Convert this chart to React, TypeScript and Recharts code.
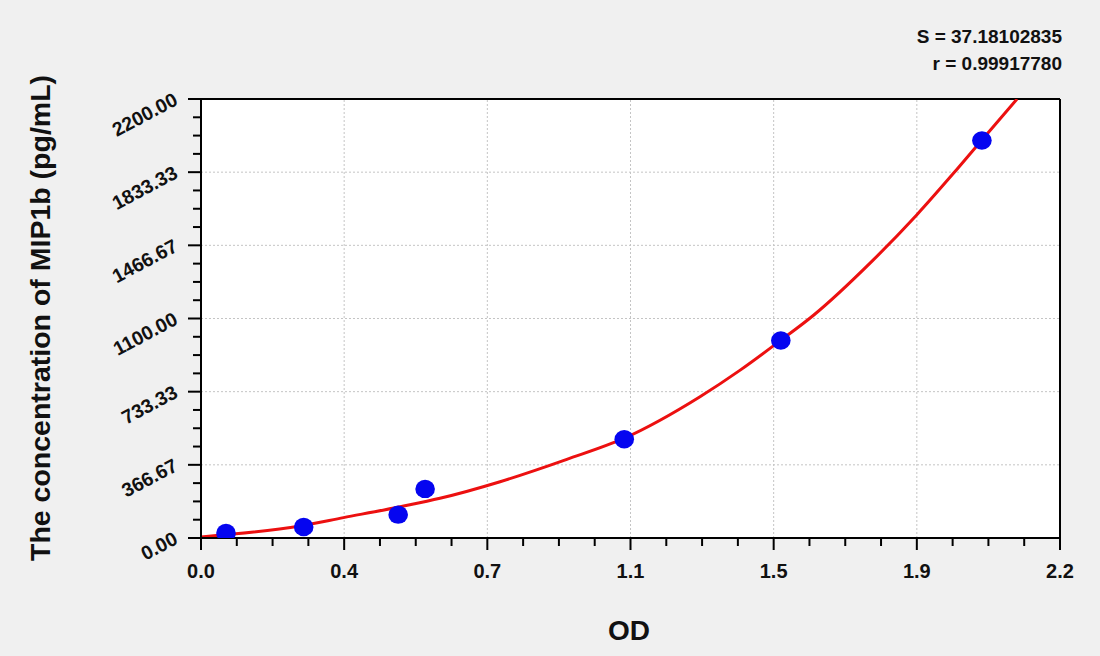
import React from "react";
import {
  ComposedChart, Line, Scatter, XAxis, YAxis, CartesianGrid, ReferenceLine,
} from "recharts";

// standards (OD vs concentration)
const stdOd = [0.064, 0.263, 0.505, 0.574, 1.084, 1.485, 2.0];
const stdConc = [25, 55, 117, 246, 495, 990, 1992];

// fitted curve
const fitOd = [0, 0.254, 0.365, 0.51, 0.612, 0.766, 0.937, 1.084, 1.278, 1.38, 1.483, 1.568, 1.72, 1.833, 1.926, 2.0, 2.09];
const fitConc = [5, 60, 102, 157, 199, 282, 394, 500, 708, 840, 988, 1115, 1390, 1619, 1825, 1995, 2200];

// axes
const xMajor = [0, 0.36667, 0.73333, 1.1, 1.46667, 1.83333, 2.2];
const xLabels = ["0.0", "0.4", "0.7", "1.1", "1.5", "1.9", "2.2"];
const yMajor = [0, 366.67, 733.33, 1100, 1466.67, 1833.33, 2200];
const yLabels = ["0.00", "366.67", "733.33", "1100.00", "1466.67", "1833.33", "2200.00"];

const FONT = "'Liberation Sans', Arial, sans-serif";

const withMinor = (major: number[]) => {
  const out: number[] = [];
  major.forEach((v, i) => {
    out.push(v);
    if (i < major.length - 1) {
      const step = (major[i + 1] - v) / 4;
      for (let k = 1; k < 4; k++) out.push(v + step * k);
    }
  });
  return out;
};

const standards = stdOd.map((x, i) => ({ x, y: stdConc[i] }));
const curve = fitOd.map((x, i) => ({ x, y: fitConc[i] }));

const findMajor = (arr: number[], v: number) => arr.findIndex((m) => Math.abs(m - v) < 1e-3);

const XTick = (props: any) => {
  const { x, y, payload } = props;
  const i = findMajor(xMajor, payload.value);
  const major = i >= 0;
  return (
    <g>
      <line x1={x} x2={x} y1={y} y2={y + (major ? 12 : 8)} stroke="#000" strokeWidth={2} />
      {major && (
        <text x={x} y={y + 40} textAnchor="middle" fontFamily={FONT} fontWeight="bold" fontSize={20} fill="#111">
          {xLabels[i]}
        </text>
      )}
    </g>
  );
};

const YTick = (props: any) => {
  const { x, y, payload } = props;
  const i = findMajor(yMajor, payload.value);
  const major = i >= 0;
  const tx = x - 22;
  const ty = y + 5;
  return (
    <g>
      <line x1={x} x2={x - (major ? 13 : 8)} y1={y} y2={y} stroke="#000" strokeWidth={2} />
      {major && (
        <text x={tx} y={ty} textAnchor="end" transform={`rotate(-28, ${tx}, ${ty})`}
          fontFamily={FONT} fontWeight="bold" fontSize={19.5} fill="#111">
          {yLabels[i]}
        </text>
      )}
    </g>
  );
};

const Dot = (props: any) => (
  <ellipse cx={props.cx} cy={props.cy} rx={9.8} ry={9.2} fill="#0505f0" />
);

export default function App() {
  return (
    <div style={{ position: "absolute", left: 0, top: 0, width: 1100, height: 656, background: "#f0f0f0" }}>
      <ComposedChart width={1100} height={656} margin={{ top: 99, right: 40, bottom: 78, left: 141 }}>
        <CartesianGrid horizontal={false} vertical={false} fill="#ffffff" />
        <XAxis type="number" dataKey="x" domain={[0, 2.2]} ticks={withMinor(xMajor)} interval={0}
          allowDataOverflow tick={<XTick />} tickLine={false} tickSize={0} tickMargin={0} height={40}
          axisLine={{ stroke: "#000", strokeWidth: 2 }} />
        <YAxis type="number" dataKey="y" domain={[0, 2200]} ticks={withMinor(yMajor)} interval={0}
          allowDataOverflow tick={<YTick />} tickLine={false} tickSize={0} tickMargin={0} width={60}
          axisLine={{ stroke: "#000", strokeWidth: 2 }} />
        {xMajor.slice(1, -1).map((v) => (
          <ReferenceLine key={"gx" + v} x={v} stroke="#c4c4c4" strokeDasharray="2 2" />
        ))}
        {yMajor.slice(1, -1).map((v) => (
          <ReferenceLine key={"gy" + v} y={v} stroke="#c4c4c4" strokeDasharray="2 2" />
        ))}
        <ReferenceLine y={2200} stroke="#000" strokeWidth={2} />
        <ReferenceLine x={2.2} stroke="#000" strokeWidth={2} />
        <Scatter data={standards} dataKey="y" shape={<Dot />} isAnimationActive={false} />
        <Line data={curve} dataKey="y" type="monotone" stroke="#ec1010" strokeWidth={3}
          dot={false} activeDot={false} isAnimationActive={false} />
      </ComposedChart>
      <svg width={1100} height={656} style={{ position: "absolute", left: 0, top: 0, pointerEvents: "none" }}>
        <g fontFamily={FONT} fontWeight="bold" fill="#111">
          <text x={1062} y={43} textAnchor="end" fontSize={19}>S = 37.18102835</text>
          <text x={1062} y={70} textAnchor="end" fontSize={19}>r = 0.99917780</text>
          <text x={629} y={640} textAnchor="middle" fontSize={28}>OD</text>
          <text x={50} y={318} textAnchor="middle" fontSize={28.5} transform="rotate(-90, 50, 318)">
            The concentration of MIP1b (pg/mL)
          </text>
        </g>
      </svg>
    </div>
  );
}
